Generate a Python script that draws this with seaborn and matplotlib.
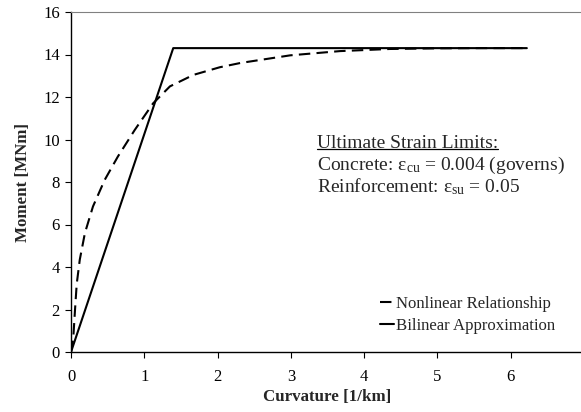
import numpy as np
import pandas as pd
import matplotlib
matplotlib.use("Agg")
import matplotlib.pyplot as plt
import seaborn as sns

# Data
nl_curv = [0.0, 0.03, 0.055, 0.078, 0.12, 0.19, 0.30, 0.46, 0.64, 0.87, 1.12,
           1.35, 1.67, 2.03, 2.31, 2.99, 3.67, 4.35, 5.00, 5.60, 6.22]
nl_moment = [0.0, 0.6, 2.0, 3.2, 4.35, 5.6, 6.85, 8.1, 9.2, 10.45, 11.7,
             12.5, 13.04, 13.4, 13.6, 13.96, 14.16, 14.26, 14.29, 14.30, 14.30]
bl_curv = [0.0, 1.395, 6.22]
bl_moment = [0.0, 14.3, 14.3]

x_ticks = [0, 1, 2, 3, 4, 5, 6, 7]
x_ticklabels = ["0", "1", "2", "3", "4", "5", "6", ""]
y_ticks = [0, 2, 4, 6, 8, 10, 12, 14, 16]
labels = ["Nonlinear Relationship", "Bilinear Approximation"]

df = pd.concat([
    pd.DataFrame({"Curvature": nl_curv, "Moment": nl_moment, "Series": labels[0]}),
    pd.DataFrame({"Curvature": bl_curv, "Moment": bl_moment, "Series": labels[1]}),
], ignore_index=True)

sns.set_style("ticks")
plt.rcParams["font.family"] = ["Liberation Serif", "DejaVu Serif"]
plt.rcParams["mathtext.fontset"] = "custom"
plt.rcParams["mathtext.rm"] = "Liberation Serif"
plt.rcParams["mathtext.it"] = "Liberation Serif:italic"

fig = plt.figure(figsize=(5.81, 4.12), dpi=100)
ax = fig.add_axes([71 / 581, 60 / 412, 513 / 581, 340 / 412])

sns.lineplot(data=df[df.Series == labels[0]], x="Curvature", y="Moment", ax=ax,
             color="black", lw=1.5, label=labels[0], sort=False, estimator=None)
sns.lineplot(data=df[df.Series == labels[1]], x="Curvature", y="Moment", ax=ax,
             color="black", lw=1.5, label=labels[1], sort=False, estimator=None)
ax.lines[0].set_dashes([5.5, 3])

ax.set_xlim(0, 7)
ax.set_ylim(0, 16)
ax.set_xticks(x_ticks)
ax.set_xticklabels(x_ticklabels)
ax.set_yticks(y_ticks)
ax.tick_params(axis="both", direction="out", length=4, width=0.8, labelsize=12,
               colors="black")
ax.tick_params(axis="y", pad=4)
ax.tick_params(axis="x", pad=8)

for s in ["left", "bottom"]:
    ax.spines[s].set_color("black")
    ax.spines[s].set_linewidth(1.0)
ax.spines["top"].set_color("#808080")
ax.spines["top"].set_linewidth(0.8)
ax.spines["right"].set_color("#808080")
ax.spines["right"].set_linewidth(0.8)

ax.set_xlabel("Curvature [1/km]", fontsize=12.2, fontweight="bold", labelpad=3)
ax.set_ylabel("Moment [MNm]", fontsize=12.2, fontweight="bold", labelpad=9)

leg = ax.legend(loc="center left", bbox_to_anchor=(0.602, 0.11), frameon=False,
                fontsize=12.1, handlelength=0.85, handletextpad=0.1,
                labelspacing=0.35, borderpad=0, borderaxespad=0)

tx = (317 - 71) / 513
t1 = ax.text(tx, (352 - 143) / 340, "Ultimate Strain Limits:", transform=ax.transAxes,
             fontsize=14, va="center", ha="left")
ax.text(tx, (352 - 165) / 340, r"Concrete: ε$_{\mathregular{cu}}$ = 0.004 (governs)",
        transform=ax.transAxes, fontsize=14, va="center", ha="left")
ax.text(tx, (352 - 187) / 340, r"Reinforcement: ε$_{\mathregular{su}}$ = 0.05",
        transform=ax.transAxes, fontsize=14, va="center", ha="left")

fig.canvas.draw()
bb = t1.get_window_extent(renderer=fig.canvas.get_renderer())
inv = fig.transFigure.inverted()
(x0, y0), (x1, y1) = inv.transform([(bb.x0, bb.y0 + 2.5), (bb.x1, bb.y0 + 2.5)])
fig.add_artist(plt.Line2D([x0, x1], [y0, y1], color="black", lw=0.9,
                          transform=fig.transFigure))

fig.savefig("out.png", dpi=100)
